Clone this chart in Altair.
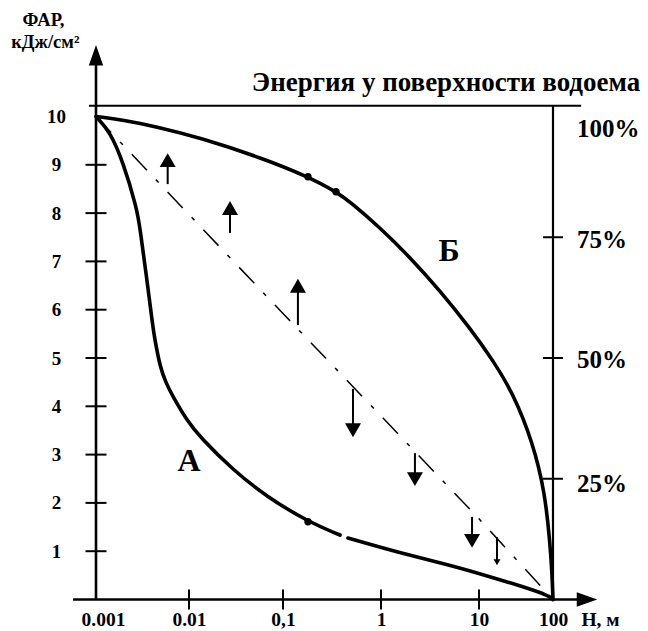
import altair as alt
import pandas as pd

FONT = "Liberation Serif"
INK = "black"

# ---- axes: decades of depth H (m) and where the hand-drawn figure puts them
H_DECADES = [0.001, 0.01, 0.1, 1, 10, 100]
H_LABELS = ["0.001", "0.01", "0,1", "1", "10", "100"]
X_RANGE = [0, 93, 187, 285, 383, 457]
Y_TICKS = [1, 2, 3, 4, 5, 6, 7, 8, 9, 10]
PCT_TICKS = [2.5, 5.0, 7.5]
PCT_LABELS = ["100%", "75%", "50%", "25%"]
PCT_LABEL_POS = [9.74, 7.45, 4.95, 2.4]

# ---- curve A (two pieces, the drawing has a gap)
curve_a1_h = [0.001, 0.001415, 0.00195, 0.002744, 0.002972, 0.003508, 0.004102, 0.004305,
              0.004875, 0.00566, 0.00673, 0.009443, 0.01309, 0.02938, 0.06708, 0.1799, 0.3819]
curve_a1_v = [10.0, 9.685, 9.064, 8.106, 7.692, 6.656, 5.621, 5.373,
              4.82, 4.48, 4.199, 3.716, 3.36, 2.681, 2.128, 1.611, 1.335]
curve_a2_h = [0.4603, 1.563, 5.06, 14.09, 39.3, 91.0, 100.0]
curve_a2_v = [1.273, 0.963, 0.714, 0.472, 0.265, 0.072, 0.0]

# ---- curve Б
curve_b_h = [0.001, 0.00195, 0.0045, 0.01309, 0.0612, 0.1799, 0.3475, 0.4831, 0.977, 1.977,
             4.0, 8.09, 15.3, 28.8, 53.7, 78.0, 91.0, 96.9, 100.0]
curve_b_v = [10.0, 9.928, 9.789, 9.561, 9.134, 8.754, 8.443, 8.236, 7.70, 7.085,
             6.393, 5.621, 4.96, 4.275, 3.24, 2.205, 1.17, 0.55, 0.0]

# ---- marked points on the curves
dot_h = [0.1799, 0.3475, 0.1799]
dot_v = [8.754, 8.443, 1.611]

# ---- dash-dot diagonal
dash_h = [0.001, 0.01, 0.1, 1, 10, 100]
dash_v = [10.0, 7.97, 5.92, 3.80, 1.67, 0.0]

# ---- arrows
arrow_h = [0.0059, 0.0273, 0.142, 0.518, 2.22, 8.49, 17.5]
arrow_tail = [8.60, 7.59, 5.68, 4.36, 3.03, 1.71, 1.29]
arrow_tip = [9.24, 8.25, 6.64, 3.36, 2.35, 1.07, 0.71]
arrow_head = [256, 256, 256, 256, 256, 256, 49]

# ---- frame lines
top_line_v = 10.22
top_line_h = [0.00084, 240.0]
x_axis_h = [0.000566, 288.0]
y_axis_top = 11.27

PX_PER_UNIT = 48.3

curve_df = pd.concat([
    pd.DataFrame({"h": curve_a1_h, "v": curve_a1_v, "curve": "A1"}),
    pd.DataFrame({"h": curve_a2_h, "v": curve_a2_v, "curve": "A2"}),
    pd.DataFrame({"h": curve_b_h, "v": curve_b_v, "curve": "B"}),
])
dot_df = pd.DataFrame({"h": dot_h, "v": dot_v})
dash_df = pd.DataFrame({"h": dash_h, "v": dash_v})

arr_rows = []
for h, t, p, s in zip(arrow_h, arrow_tail, arrow_tip, arrow_head):
    d = 1 if p > t else -1
    half = 0.433 * s ** 0.5 / PX_PER_UNIT
    arr_rows.append({"h": h, "tail": t, "head": p - d * half,
                     "shape": "triangle-up" if d > 0 else "triangle-down", "size": s})
arr_df = pd.DataFrame(arr_rows)

lines_df = pd.DataFrame([
    {"h": H_DECADES[0], "x2": H_DECADES[0], "v": 0.0, "y2": y_axis_top, "w": 2.6},
    {"h": x_axis_h[0], "x2": x_axis_h[1], "v": 0.0, "y2": 0.0, "w": 2.6},
    {"h": top_line_h[0], "x2": top_line_h[1], "v": top_line_v, "y2": top_line_v, "w": 2.0},
    {"h": H_DECADES[-1], "x2": H_DECADES[-1], "v": 0.0, "y2": top_line_v, "w": 2.2},
])
heads_df = pd.DataFrame([
    {"h": H_DECADES[0], "v": y_axis_top, "shape": "M0,-1L0.7,1L-0.7,1Z"},
    {"h": x_axis_h[1], "v": 0.0, "shape": "M1,0L-1,-0.7L-1,0.7Z"},
])

hticks_df = pd.DataFrame(
    [{"h": H_DECADES[0], "v": v, "s": 21} for v in Y_TICKS[:-1]] +
    [{"h": H_DECADES[-1], "v": v, "s": 20} for v in PCT_TICKS]
)
vticks_df = pd.DataFrame({"h": H_DECADES[1:-1], "v": 0.0})
pct_df = pd.DataFrame({"h": H_DECADES[-1], "v": PCT_LABEL_POS, "t": PCT_LABELS})
notes_df = pd.DataFrame([
    {"h": 4.61, "v": 10.69, "t": "Энергия у поверхности водоема", "fs": 27},
    {"h": 0.01, "v": 2.87, "t": "А", "fs": 32},
    {"h": 4.94, "v": 7.22, "t": "Б", "fs": 32},
])
ytitle_df = pd.DataFrame([
    {"h": 0.000272, "v": 11.87, "t": "ФАР,"},
    {"h": 0.000285, "v": 11.42, "t": "кДж/см²"},
])

x_scale = alt.Scale(type="log", domain=H_DECADES, range=X_RANGE, nice=False)
y_scale = alt.Scale(domain=[0, 10], nice=False, zero=False)

label_expr = "[" + ",".join(f"'{s}'" for s in H_LABELS) + "][round(log(datum.value)/LN10)+3]"

x_axis = alt.Axis(values=H_DECADES, labelExpr=label_expr, domain=False, ticks=False, grid=False,
                  labelPadding=11, labelFlush=False, labelOverlap=False, labelFont=FONT,
                  labelOffset={"condition": {"test": "datum.value < 0.002", "value": 7}, "value": 0},
                  labelFontSize=19.5, labelFontWeight="bold", labelColor=INK,
                  title="H, м", titleX=504, titleY=26, titleAlign="center",
                  titleBaseline="alphabetic", titleFont=FONT, titleFontSize=19.5,
                  titleFontWeight="bold", titleColor=INK)
y_axis = alt.Axis(values=Y_TICKS, domain=False, ticks=False, grid=False, labelAlign="center",
                  labelBaseline="middle", labelPadding=40, labelFont=FONT, labelFontSize=19,
                  labelFontWeight="bold", labelColor=INK, title=None)


def X(f="h"):
    return alt.X(f"{f}:Q", scale=x_scale, axis=x_axis)


def Y(f="v"):
    return alt.Y(f"{f}:Q", scale=y_scale, axis=y_axis)


curves = alt.Chart(curve_df).mark_line(
    strokeWidth=3.6, interpolate="basis", color=INK, strokeCap="round"
).encode(x=X(), y=Y(), detail="curve:N")
dots = alt.Chart(dot_df).mark_circle(size=55, color=INK, opacity=1).encode(x=X(), y=Y())
dashed = alt.Chart(dash_df).mark_line(
    strokeWidth=1.5, color=INK, strokeDash=[22, 13, 4, 13]
).encode(x=X(), y=Y())
shafts = alt.Chart(arr_df).mark_rule(strokeWidth=2, color=INK).encode(
    x=X(), y=Y("tail"), y2="head:Q")
heads = alt.Chart(arr_df).mark_point(filled=True, color=INK, opacity=1, strokeWidth=0).encode(
    x=X(), y=Y("head"),
    shape=alt.Shape("shape:N", scale=None),
    size=alt.Size("size:Q", scale=None),
)
frame = alt.Chart(lines_df).mark_rule(color=INK).encode(
    x=X(), x2="x2:Q", y=Y(), y2="y2:Q",
    strokeWidth=alt.StrokeWidth("w:Q", scale=None),
)
frame_heads = alt.Chart(heads_df).mark_point(
    filled=True, color=INK, opacity=1, size=420, strokeWidth=0
).encode(x=X(), y=Y(), shape=alt.Shape("shape:N", scale=None))
hticks = alt.Chart(hticks_df).mark_tick(orient="horizontal", thickness=2, color=INK, opacity=1).encode(
    x=X(), y=Y(), size=alt.Size("s:Q", scale=None))
vticks = alt.Chart(vticks_df).mark_tick(orient="vertical", thickness=2, size=20, color=INK, opacity=1).encode(
    x=X(), y=Y())
pct = alt.Chart(pct_df).mark_text(
    align="left", baseline="middle", dx=24, font=FONT, fontSize=25, fontWeight="bold", color=INK
).encode(x=X(), y=Y(), text="t:N")
notes = alt.Chart(notes_df).mark_text(
    align="center", baseline="middle", font=FONT, fontWeight="bold", color=INK
).encode(x=X(), y=Y(), text="t:N", size=alt.Size("fs:Q", scale=None))
ytitle = alt.Chart(ytitle_df).mark_text(
    align="center", baseline="alphabetic", font=FONT, fontSize=18.5, fontWeight="bold", color=INK
).encode(x=X(), y=Y(), text="t:N")

chart = alt.layer(
    curves, dashed, dots, shafts, heads, frame, frame_heads, hticks, vticks, pct, notes, ytitle
).properties(
    width=457, height=483,
    padding={"left": 88, "top": 108.5, "right": 87, "bottom": 31.5},
    autosize=alt.AutoSizeParams(type="none"),
).configure(background="white", view=alt.ViewConfig(stroke=None))

chart.save("out.html", embed_options={"renderer": "svg", "actions": False})
